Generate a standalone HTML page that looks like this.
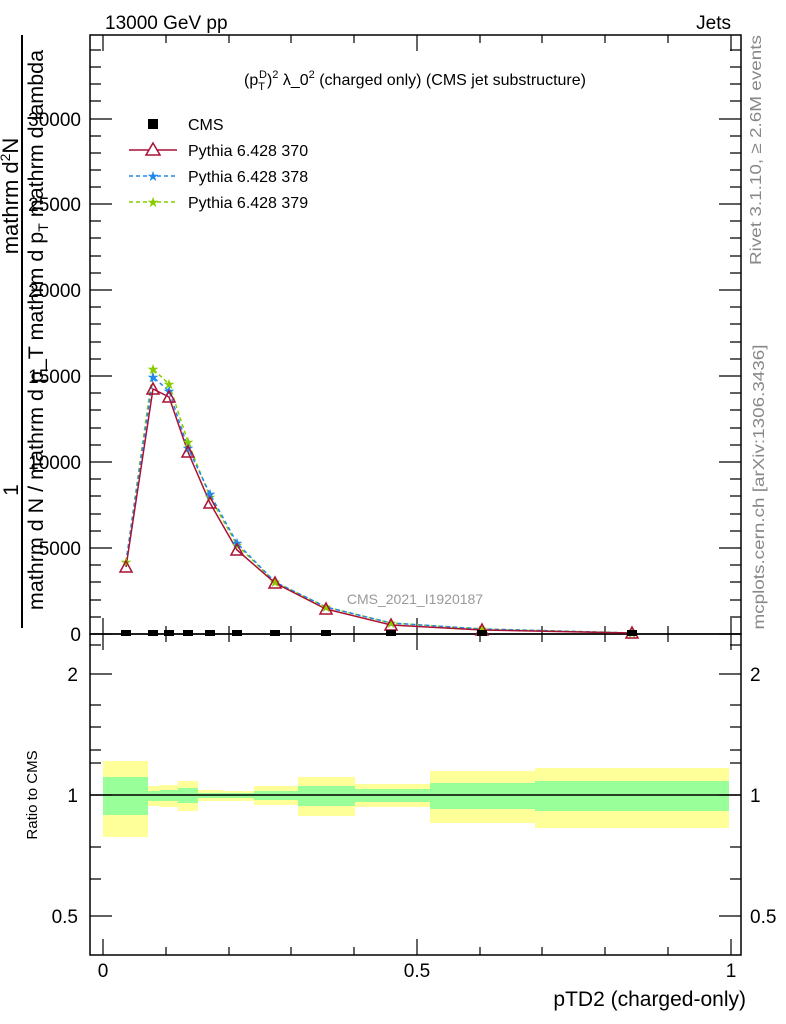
<!DOCTYPE html>
<html><head><meta charset="utf-8"><style>body{margin:0;background:#fff}svg{display:block;font-family:"Liberation Sans",sans-serif}</style></head><body>
<svg width="786" height="1024" viewBox="0 0 786 1024">
<rect width="786" height="1024" fill="#fff"/>
<text x="105" y="29" font-size="19">13000 GeV pp</text>
<text x="731" y="29" font-size="19" text-anchor="end">Jets</text>
<text x="415" y="85" font-size="16" text-anchor="middle">(p<tspan font-size="11" dy="5">T</tspan><tspan font-size="11" dy="-12" dx="-6">D</tspan><tspan dy="7">)</tspan><tspan font-size="11" dy="-7">2</tspan><tspan dy="7"> λ_0</tspan><tspan font-size="11" dy="-7">2</tspan><tspan dy="7"> (charged only) (CMS jet substructure)</tspan></text>
<line x1="22" y1="35" x2="22" y2="628" stroke="#000" stroke-width="2"/>
<text transform="translate(22,196) rotate(-90)" font-size="22" text-anchor="middle" dy="-4">mathrm d<tspan font-size="14" dy="-8">2</tspan><tspan dy="8">N</tspan></text>
<text transform="translate(22,490) rotate(-90)" font-size="21" text-anchor="middle" dy="-4">1</text>
<text transform="translate(22,330) rotate(-90)" font-size="21.5" text-anchor="middle" dy="21">mathrm d N / mathrm d p_T mathrm d p<tspan font-size="14" dy="5">T</tspan><tspan dy="-5"> mathrm d lambda</tspan></text>
<text transform="translate(761,150) rotate(-90)" font-size="16" fill="#888" text-anchor="middle" textLength="230" lengthAdjust="spacingAndGlyphs">Rivet 3.1.10, ≥ 2.6M events</text>
<text transform="translate(764,487) rotate(-90)" font-size="16" fill="#888" text-anchor="middle" textLength="285" lengthAdjust="spacingAndGlyphs">mcplots.cern.ch [arXiv:1306.3436]</text>
<text x="415" y="604" font-size="14" fill="#999" text-anchor="middle">CMS_2021_I1920187</text>
<rect x="90" y="35" width="651" height="599" fill="none" stroke="#000" stroke-width="1.5"/>
<g>
<rect x="103" y="761" width="45" height="76" fill="#ffff99"/><rect x="103" y="777" width="45" height="38" fill="#99ff99"/>
<rect x="148" y="786" width="12" height="20" fill="#ffff99"/><rect x="148" y="791" width="12" height="10" fill="#99ff99"/>
<rect x="160" y="785" width="18" height="22" fill="#ffff99"/><rect x="160" y="790" width="18" height="11" fill="#99ff99"/>
<rect x="178" y="781" width="20" height="30" fill="#ffff99"/><rect x="178" y="788" width="20" height="15" fill="#99ff99"/>
<rect x="198" y="790" width="25" height="11" fill="#ffff99"/><rect x="198" y="793" width="25" height="5" fill="#99ff99"/>
<rect x="223" y="791" width="31" height="10" fill="#ffff99"/><rect x="223" y="793" width="31" height="5" fill="#99ff99"/>
<rect x="254" y="786" width="44" height="19" fill="#ffff99"/><rect x="254" y="791" width="44" height="9" fill="#99ff99"/>
<rect x="298" y="777" width="57" height="39" fill="#ffff99"/><rect x="298" y="786" width="57" height="20" fill="#99ff99"/>
<rect x="355" y="784" width="75" height="23" fill="#ffff99"/><rect x="355" y="789" width="75" height="13" fill="#99ff99"/>
<rect x="430" y="771" width="105" height="52" fill="#ffff99"/><rect x="430" y="783" width="105" height="26" fill="#99ff99"/>
<rect x="535" y="768" width="194" height="60" fill="#ffff99"/><rect x="535" y="781" width="194" height="30" fill="#99ff99"/>
</g>
<line x1="90" y1="795" x2="741" y2="795" stroke="#000" stroke-width="1.5"/>
<rect x="90" y="634" width="651" height="321" fill="none" stroke="#000" stroke-width="1.5"/>
<g stroke="#000" stroke-width="1.2">
<path d="M90 634h22M90 548h22M90 462h22M90 376h22M90 290h22M90 204h22M90 119h22M741 634h-22M741 548h-22M741 462h-22M741 376h-22M741 290h-22M741 204h-22M741 119h-22"/>
<path d="M90 617h11M90 600h11M90 582h11M90 565h11M90 531h11M90 514h11M90 496h11M90 479h11M90 445h11M90 428h11M90 410h11M90 393h11M90 359h11M90 342h11M90 324h11M90 307h11M90 273h11M90 256h11M90 238h11M90 221h11M90 187h11M90 170h11M90 153h11M90 136h11M90 101h11M90 84h11M90 67h11M90 50h11"/>
<path d="M741 617h-11M741 600h-11M741 582h-11M741 565h-11M741 531h-11M741 514h-11M741 496h-11M741 479h-11M741 445h-11M741 428h-11M741 410h-11M741 393h-11M741 359h-11M741 342h-11M741 324h-11M741 307h-11M741 273h-11M741 256h-11M741 238h-11M741 221h-11M741 187h-11M741 170h-11M741 153h-11M741 136h-11M741 101h-11M741 84h-11M741 67h-11M741 50h-11"/>
<path d="M103 634v-16M417 634v-16M731 634v-16M103 35v16M417 35v16M731 35v16"/>
<path d="M166 634v-8M229 634v-8M291 634v-8M354 634v-8M480 634v-8M542 634v-8M605 634v-8M668 634v-8M166 35v8M229 35v8M291 35v8M354 35v8M480 35v8M542 35v8M605 35v8M668 35v8"/>
<path d="M103 955v-16M417 955v-16M731 955v-16M103 634v16M417 634v16M731 634v16"/>
<path d="M166 955v-8M229 955v-8M291 955v-8M354 955v-8M480 955v-8M542 955v-8M605 955v-8M668 955v-8M166 634v8M229 634v8M291 634v8M354 634v8M480 634v8M542 634v8M605 634v8M668 634v8"/>
<path d="M90 674h22M90 795h22M90 916h22M741 674h-22M741 795h-22M741 916h-22"/>
<path d="M90 645h11M90 705h11M90 727h11M90 750h11M90 763h11M90 847h11M90 879h11M741 645h-11M741 705h-11M741 727h-11M741 750h-11M741 763h-11M741 847h-11M741 879h-11"/>
</g>
<g font-size="19" text-anchor="end">
<text x="81" y="641">0</text><text x="81" y="555">5000</text><text x="81" y="469">10000</text><text x="81" y="383">15000</text><text x="81" y="297">20000</text><text x="81" y="211">25000</text><text x="81" y="126">30000</text>
<text x="78" y="681">2</text><text x="78" y="802">1</text><text x="78" y="923">0.5</text>
</g>
<g font-size="19"><text x="750" y="681">2</text><text x="750" y="802">1</text><text x="750" y="923">0.5</text></g>
<g font-size="19" text-anchor="middle"><text x="103" y="977">0</text><text x="417" y="977">0.5</text><text x="731" y="977">1</text></g>
<text x="746" y="1006" font-size="21" text-anchor="end">pTD2 (charged-only)</text>
<text transform="translate(37,795) rotate(-90)" font-size="15" text-anchor="middle">Ratio to CMS</text>
<polyline points="126,562 153,369 169,384 188,442 210,497 237,545 275,582 326,607 391,623 482,629 632,633" fill="none" stroke="#88cc00" stroke-width="1.5" stroke-dasharray="4,3"/>
<polyline points="126,562 153,377 169,391 188,448 210,494 237,543 275,582 326,607 391,623 482,629 632,633" fill="none" stroke="#2288ee" stroke-width="1.5" stroke-dasharray="4,3"/>
<polyline points="126,567 153,389 169,397 188,452 210,503 237,550 275,583 326,609 391,625 482,630 632,633" fill="none" stroke="#aa1133" stroke-width="1.5"/>
<g fill="#88cc00" font-size="14" text-anchor="middle">
<text x="126" y="567">★</text><text x="153" y="374">★</text><text x="169" y="389">★</text><text x="188" y="447">★</text><text x="210" y="502">★</text><text x="237" y="550">★</text><text x="275" y="587">★</text><text x="326" y="612">★</text><text x="391" y="628">★</text><text x="482" y="634">★</text><text x="632" y="638">★</text></g>
<g fill="#2288ee" font-size="14" text-anchor="middle">
<text x="153" y="382">★</text><text x="169" y="396">★</text><text x="188" y="453">★</text><text x="210" y="499">★</text><text x="237" y="548">★</text></g>
<g fill="none" stroke="#aa1133" stroke-width="1.5">
<path d="M126 561l6 11h-12z"/><path d="M153 383l6 11h-12z"/><path d="M169 391l6 11h-12z"/><path d="M188 446l6 11h-12z"/><path d="M210 497l6 11h-12z"/><path d="M237 544l6 11h-12z"/><path d="M275 577l6 11h-12z"/><path d="M326 603l6 11h-12z"/><path d="M391 619l6 11h-12z"/><path d="M482 624l6 11h-12z"/><path d="M632 627l6 11h-12z"/></g>
<g fill="#000"><rect x="121" y="630" width="10" height="6"/><rect x="148" y="630" width="10" height="6"/><rect x="164" y="630" width="10" height="6"/><rect x="183" y="630" width="10" height="6"/><rect x="205" y="630" width="10" height="6"/><rect x="232" y="630" width="10" height="6"/><rect x="270" y="630" width="10" height="6"/><rect x="321" y="630" width="10" height="6"/><rect x="386" y="630" width="10" height="6"/><rect x="477" y="630" width="10" height="6"/><rect x="627" y="630" width="10" height="6"/></g>
<rect x="148" y="119" width="10" height="10" fill="#000"/>
<text x="188" y="130" font-size="16">CMS</text>
<line x1="129" y1="150" x2="177" y2="150" stroke="#aa1133" stroke-width="1.5"/>
<path d="M153 143l7 12h-14z" fill="#fff" stroke="#aa1133" stroke-width="1.5"/>
<text x="188" y="156" font-size="16">Pythia 6.428 370</text>
<line x1="129" y1="176" x2="177" y2="176" stroke="#2288ee" stroke-width="1.5" stroke-dasharray="4,3"/>
<text x="153" y="181" font-size="14" fill="#2288ee" text-anchor="middle">★</text>
<text x="188" y="182" font-size="16">Pythia 6.428 378</text>
<line x1="129" y1="202" x2="177" y2="202" stroke="#88cc00" stroke-width="1.5" stroke-dasharray="4,3"/>
<text x="153" y="207" font-size="14" fill="#88cc00" text-anchor="middle">★</text>
<text x="188" y="208" font-size="16">Pythia 6.428 379</text>
</svg>
</body></html>
